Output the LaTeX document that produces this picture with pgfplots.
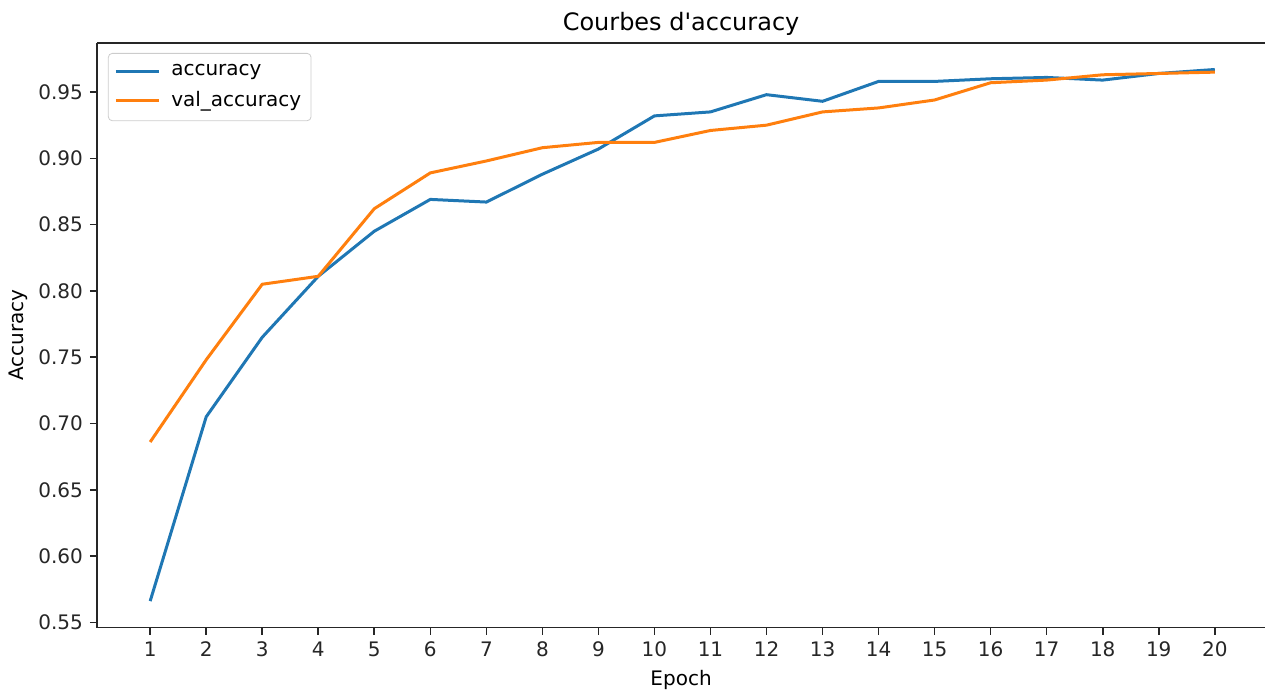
\documentclass[border=0pt]{standalone}
\usepackage{fontspec}
\setmainfont{DejaVu Sans}
\usepackage{pgfplots}
\pgfplotsset{compat=1.18}
\definecolor{tabblue}{HTML}{1F77B4}
\definecolor{taborange}{HTML}{FF7F0E}
\begin{document}
\begin{tikzpicture}
\begin{axis}[
  scale only axis, width=584.5pt, height=292.5pt,
  xmin=0.05, xmax=20.9, ymin=0.546, ymax=0.987,
  separate axis lines,
  axis x line*=box, axis y line*=left,
  every outer x axis line/.append style={-},
  every outer y axis line/.append style={-},
  axis line style={line width=0.8pt, black!85, -},
  xtick={1,2,...,20},
  ytick={0.55,0.60,0.65,0.70,0.75,0.80,0.85,0.90,0.95},
  xtick pos=bottom, ytick pos=left,
  tick align=outside, major tick length=3.5pt,
  tick style={line width=0.8pt, black!85},
  /pgf/number format/assume math mode=true,
  yticklabel style={/pgf/number format/.cd, fixed, fixed zerofill, precision=2},
  ticklabel style={font=\fontsize{10}{12}\selectfont, text=black!85},
  title={Courbes d\textquotesingle accuracy},
  title style={font=\fontsize{12}{14.4}\selectfont, yshift=-6pt},
  xlabel={Epoch}, ylabel={Accuracy},
  ylabel shift=-1.5pt,
  label style={font=\fontsize{10}{12}\selectfont},
  legend style={at={(0,1)}, anchor=north west, xshift=5.5pt, yshift=-5pt,
    draw=black!20, rounded corners=2pt, font=\fontsize{10}{12}\selectfont,
    inner xsep=3pt, inner ysep=3.5pt, row sep=2.5pt},
  legend cell align=left,
  legend image code/.code={\draw[#1] (0pt,0pt) -- (21.5pt,0pt); \path (25pt,0pt);},
]
\addplot[tabblue, line width=1.5pt] coordinates {
(1,0.566) (2,0.705) (3,0.765) (4,0.811) (5,0.845) (6,0.869) (7,0.867) (8,0.888) (9,0.907) (10,0.932)
(11,0.935) (12,0.948) (13,0.943) (14,0.958) (15,0.958) (16,0.960) (17,0.961) (18,0.959) (19,0.964) (20,0.967)};
\addlegendentry{accuracy}
\addplot[taborange, line width=1.5pt] coordinates {
(1,0.686) (2,0.748) (3,0.805) (4,0.811) (5,0.862) (6,0.889) (7,0.898) (8,0.908) (9,0.912) (10,0.912)
(11,0.921) (12,0.925) (13,0.935) (14,0.938) (15,0.944) (16,0.957) (17,0.959) (18,0.963) (19,0.964) (20,0.965)};
\addlegendentry{val\_accuracy}
\end{axis}
\pgfresetboundingbox
\path[use as bounding box] ([shift={(-48.5pt,-32.5pt)}]current axis.south west) rectangle ([shift={(0.4pt,21.5pt)}]current axis.north east);
\end{tikzpicture}
\end{document}
